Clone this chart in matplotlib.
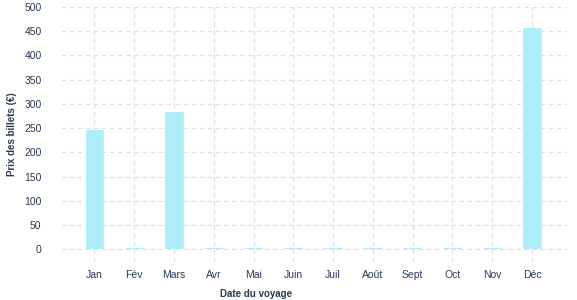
import matplotlib.pyplot as plt

plt.rcParams['font.family'] = ['Liberation Sans', 'DejaVu Sans']

months = ['Jan', 'Fév', 'Mars', 'Avr', 'Mai', 'Juin', 'Juil', 'Août', 'Sept', 'Oct', 'Nov', 'Déc']
prices = [246, 3, 283, 3, 3, 3, 3, 3, 3, 3, 3, 457]
yticks = [0, 50, 100, 150, 200, 250, 300, 350, 400, 450, 500]

text_col = '#2b3a55'
bar_col = '#aeeef8'

fig = plt.figure(figsize=(5.77, 3.0), dpi=100)
ax = fig.add_axes([61 / 577, 1 - 262 / 300, 506 / 577, 255 / 300])

x = range(len(months))
# light grey shadow on the right of each bar
ax.bar([i + 0.03 for i in x], prices, width=0.43, color='#e2e2e2', zorder=2)
ax.bar(x, prices, width=0.43, color=bar_col, zorder=3)

ax.set_xlim(-0.84, 11.88)
ax.set_ylim(-26, 500)
ax.set_yticks(yticks)
ax.set_xticks(list(x))
ax.set_xticklabels(months)

ax.grid(True, color='#e0e0e0', linestyle=(0, (3.5, 3)), linewidth=0.9, zorder=0)
for s in ax.spines.values():
    s.set_visible(False)
ax.tick_params(axis='both', length=0, colors=text_col, labelsize=7.5)
ax.tick_params(axis='y', pad=14)
ax.tick_params(axis='x', pad=6)

fig.text(256 / 577, 1 - 294 / 300, 'Date du voyage', fontsize=7, fontweight='bold',
         color=text_col, ha='center', va='center')
ax.set_ylabel('Prix des billets (€)', fontsize=7, fontweight='bold', color=text_col, labelpad=5)

plt.savefig('out.png', dpi=100)
